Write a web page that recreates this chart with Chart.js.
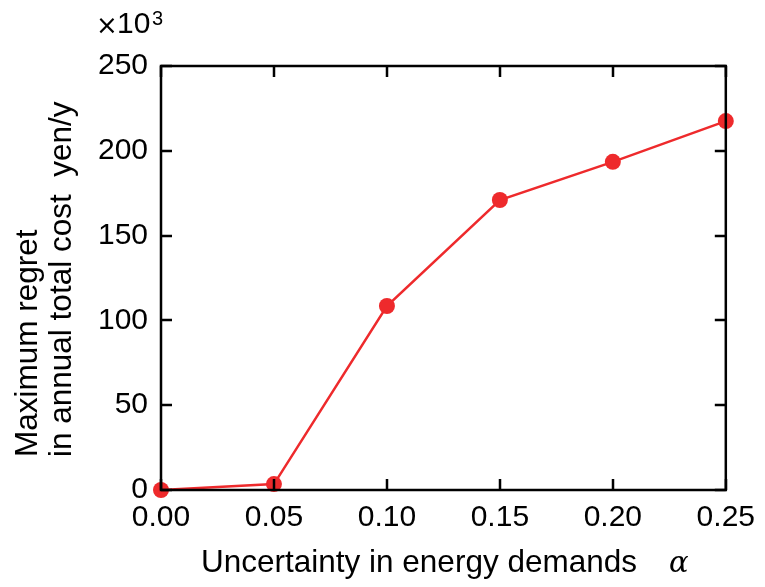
<!DOCTYPE html>
<html>
<head>
<meta charset="utf-8">
<script src="https://cdn.jsdelivr.net/npm/chart.js@4.4.1/dist/chart.umd.min.js"></script>
<style>
  html, body { margin: 0; padding: 0; background: #fff; }
  #wrap { width: 765px; height: 587px; position: relative; }
</style>
</head>
<body>
<div id="wrap"><canvas id="c" width="765" height="587"></canvas></div>
<script>
// Uncertainty level alpha and maximum regret (x10^3 yen/y)
const alphaValues = [0.00, 0.05, 0.10, 0.15, 0.20, 0.25];
const maxRegret = [0, 3.5, 108.5, 171, 193.5, 217.5];
const xTicks = [0.00, 0.05, 0.10, 0.15, 0.20, 0.25];
const yTicks = [0, 50, 100, 150, 200, 250];

const FONT = '"Liberation Sans", Helvetica, Arial, sans-serif';
const RED = '#ee2a2c';

// Frame on all four sides with inward tick marks, plus the text labels
const framePlugin = {
  id: 'frame',
  afterDatasetsDraw(chart) {
    const { ctx, chartArea: a, scales } = chart;
    const xs = scales.x, ys = scales.y;
    ctx.save();
    ctx.strokeStyle = '#000';
    ctx.lineWidth = 2.5;
    ctx.strokeRect(a.left, a.top, a.right - a.left, a.bottom - a.top);
    const tl = 11;
    ctx.beginPath();
    xTicks.forEach(v => {
      const px = Math.round(xs.getPixelForValue(v));
      ctx.moveTo(px, a.bottom); ctx.lineTo(px, a.bottom - tl);
      ctx.moveTo(px, a.top); ctx.lineTo(px, a.top + tl);
    });
    yTicks.forEach(v => {
      const py = Math.round(ys.getPixelForValue(v));
      ctx.moveTo(a.left, py); ctx.lineTo(a.left + tl, py);
      ctx.moveTo(a.right, py); ctx.lineTo(a.right - tl, py);
    });
    ctx.stroke();
    ctx.restore();
  },
  afterDraw(chart) {
    const { ctx } = chart;
    ctx.save();
    ctx.fillStyle = '#000';
    ctx.textAlign = 'left';
    ctx.textBaseline = 'alphabetic';
    // multiplier above the y axis
    ctx.font = '26px "DejaVu Sans", sans-serif';
    ctx.fillText('\u00d7', 96, 34);
    ctx.font = '30px ' + FONT;
    ctx.fillText('10', 117, 33);
    ctx.font = '20px ' + FONT;
    ctx.fillText('3', 152, 25);
    // x axis title
    ctx.font = '31.5px ' + FONT;
    ctx.fillText('Uncertainty in energy demands', 201, 572);
    ctx.font = 'italic 29px "DejaVu Serif", "Liberation Serif", serif';
    ctx.fillText('\u03b1', 669, 572);
    // y axis title, two lines
    ctx.font = '31.5px ' + FONT;
    ctx.translate(0, 457);
    ctx.rotate(-Math.PI / 2);
    ctx.fillText('Maximum regret', 0, 37);
    ctx.fillText('in annual total cost  yen/y', 0, 71);
    ctx.restore();
  }
};

new Chart(document.getElementById('c'), {
  type: 'line',
  data: {
    datasets: [{
      data: alphaValues.map((a, i) => ({ x: a, y: maxRegret[i] })),
      borderColor: RED,
      backgroundColor: RED,
      borderWidth: 2.5,
      pointRadius: 8,
      pointHoverRadius: 8,
      pointBackgroundColor: RED,
      pointBorderWidth: 0,
      tension: 0,
      clip: false
    }]
  },
  options: {
    responsive: false,
    animation: false,
    events: [],
    layout: { padding: { top: 66, right: 37, left: 0, bottom: 0 } },
    plugins: { legend: { display: false }, tooltip: { enabled: false } },
    scales: {
      x: {
        type: 'linear',
        min: 0, max: 0.25,
        afterBuildTicks(s) { s.ticks = xTicks.map(v => ({ value: v })); },
        afterFit(s) { s.height = 97; },
        grid: { display: false, drawTicks: false },
        border: { display: false },
        ticks: {
          color: '#000',
          font: { family: FONT, size: 30 },
          padding: 10,
          maxRotation: 0,
          callback: v => v.toFixed(2)
        }
      },
      y: {
        type: 'linear',
        min: 0, max: 250,
        afterBuildTicks(s) { s.ticks = yTicks.map(v => ({ value: v })); },
        afterFit(s) { s.width = 161; },
        grid: { display: false, drawTicks: false },
        border: { display: false },
        ticks: {
          color: '#000',
          font: { family: FONT, size: 30 },
          padding: 13,
          callback: v => String(v)
        }
      }
    }
  },
  plugins: [framePlugin]
});
</script>
</body>
</html>
